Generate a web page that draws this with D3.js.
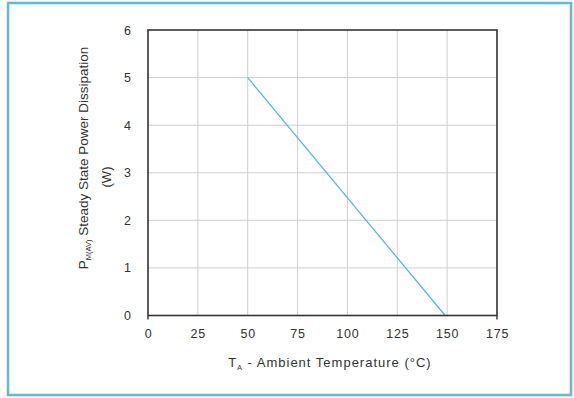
<!DOCTYPE html>
<html>
<head>
<meta charset="utf-8">
<script src="https://cdn.jsdelivr.net/npm/d3@7"></script>
<style>
  body { margin: 0; background: #fff; }
  svg { display: block; font-family: "Liberation Sans", Arial, sans-serif; }
</style>
</head>
<body>
<svg id="chart" width="574" height="398"></svg>
<script>
const tempC   = [50, 149];
const powerW  = [5, 0];
const xTicks  = [0, 25, 50, 75, 100, 125, 150, 175];
const yTicks  = [0, 1, 2, 3, 4, 5, 6];

const W = 574, H = 398;
const Mg = { top: 30, right: 77, bottom: 82.5, left: 148 };
const w = W - Mg.left - Mg.right, h = H - Mg.top - Mg.bottom;

const root = d3.select('#chart');

// outer frame
root.append('rect').attr('x', 8).attr('y', 3).attr('width', 563).attr('height', 392)
  .attr('fill', '#fff').attr('stroke', '#62b9d3').attr('stroke-width', 2.5);

const svg = root.append('g').attr('transform', `translate(${Mg.left},${Mg.top})`);

const x = d3.scaleLinear().domain([0, 175]).range([0, w]);
const y = d3.scaleLinear().domain([0, 6]).range([h, 0]);

// grid
svg.append('g').selectAll('line').data(xTicks.slice(1, -1)).join('line')
  .attr('x1', d => x(d)).attr('x2', d => x(d)).attr('y1', 0).attr('y2', h)
  .attr('stroke', '#cfcfcf').attr('stroke-width', 1);
svg.append('g').selectAll('line').data(yTicks.slice(1, -1)).join('line')
  .attr('x1', 0).attr('x2', w).attr('y1', d => y(d)).attr('y2', d => y(d))
  .attr('stroke', '#cfcfcf').attr('stroke-width', 1);

// data line
const pts = tempC.map((t, i) => [t, powerW[i]]);
svg.append('path').datum(pts)
  .attr('d', d3.line().x(d => x(d[0])).y(d => y(d[1])))
  .attr('fill', 'none').attr('stroke', '#5ab8dc').attr('stroke-width', 1.3);

// plot frame
svg.append('rect').attr('x', 0).attr('y', 0).attr('width', w).attr('height', h)
  .attr('fill', 'none').attr('stroke', '#333').attr('stroke-width', 1.6);

// axes
const xa = svg.append('g').attr('transform', `translate(0,${h})`)
  .call(d3.axisBottom(x).tickValues(xTicks).tickSize(0).tickPadding(14).tickFormat(d3.format('d')));
const ya = svg.append('g')
  .call(d3.axisLeft(y).tickValues(yTicks).tickSize(0).tickPadding(17).tickFormat(d3.format('d')));
[xa, ya].forEach(a => {
  a.select('.domain').remove();
  a.selectAll('text').attr('font-size', 12.5).attr('fill', '#333')
    .attr('font-family', '"Liberation Sans", Arial, sans-serif');
});
xa.selectAll('text').attr('letter-spacing', 0.8);
// small end ticks
svg.append('g').selectAll('line').data([0, 175]).join('line')
  .attr('x1', d => x(d)).attr('x2', d => x(d)).attr('y1', h).attr('y2', h + 4)
  .attr('stroke', '#333').attr('stroke-width', 1.4);

// x title
const xt = svg.append('text').attr('x', 182).attr('y', h + 51)
  .attr('text-anchor', 'middle').attr('font-size', 13).attr('fill', '#333')
  .attr('letter-spacing', 1);
xt.append('tspan').text('T');
xt.append('tspan').attr('font-size', 7).attr('dy', 3).text('A');
xt.append('tspan').attr('dy', -3).text(' - Ambient Temperature (°C)');

// y title
const yt = root.append('text').attr('transform', 'translate(88,158) rotate(-90)')
  .attr('text-anchor', 'middle').attr('font-size', 13.5).attr('fill', '#333');
yt.append('tspan').text('P');
yt.append('tspan').attr('font-size', 7.5).attr('dy', 3).text('M(AV)');
yt.append('tspan').attr('dy', -3).text(' Steady State Power Dissipation');
root.append('text').attr('transform', 'translate(111,177) rotate(-90)')
  .attr('text-anchor', 'middle').attr('font-size', 13).attr('fill', '#333').text('(W)');
</script>
</body>
</html>
